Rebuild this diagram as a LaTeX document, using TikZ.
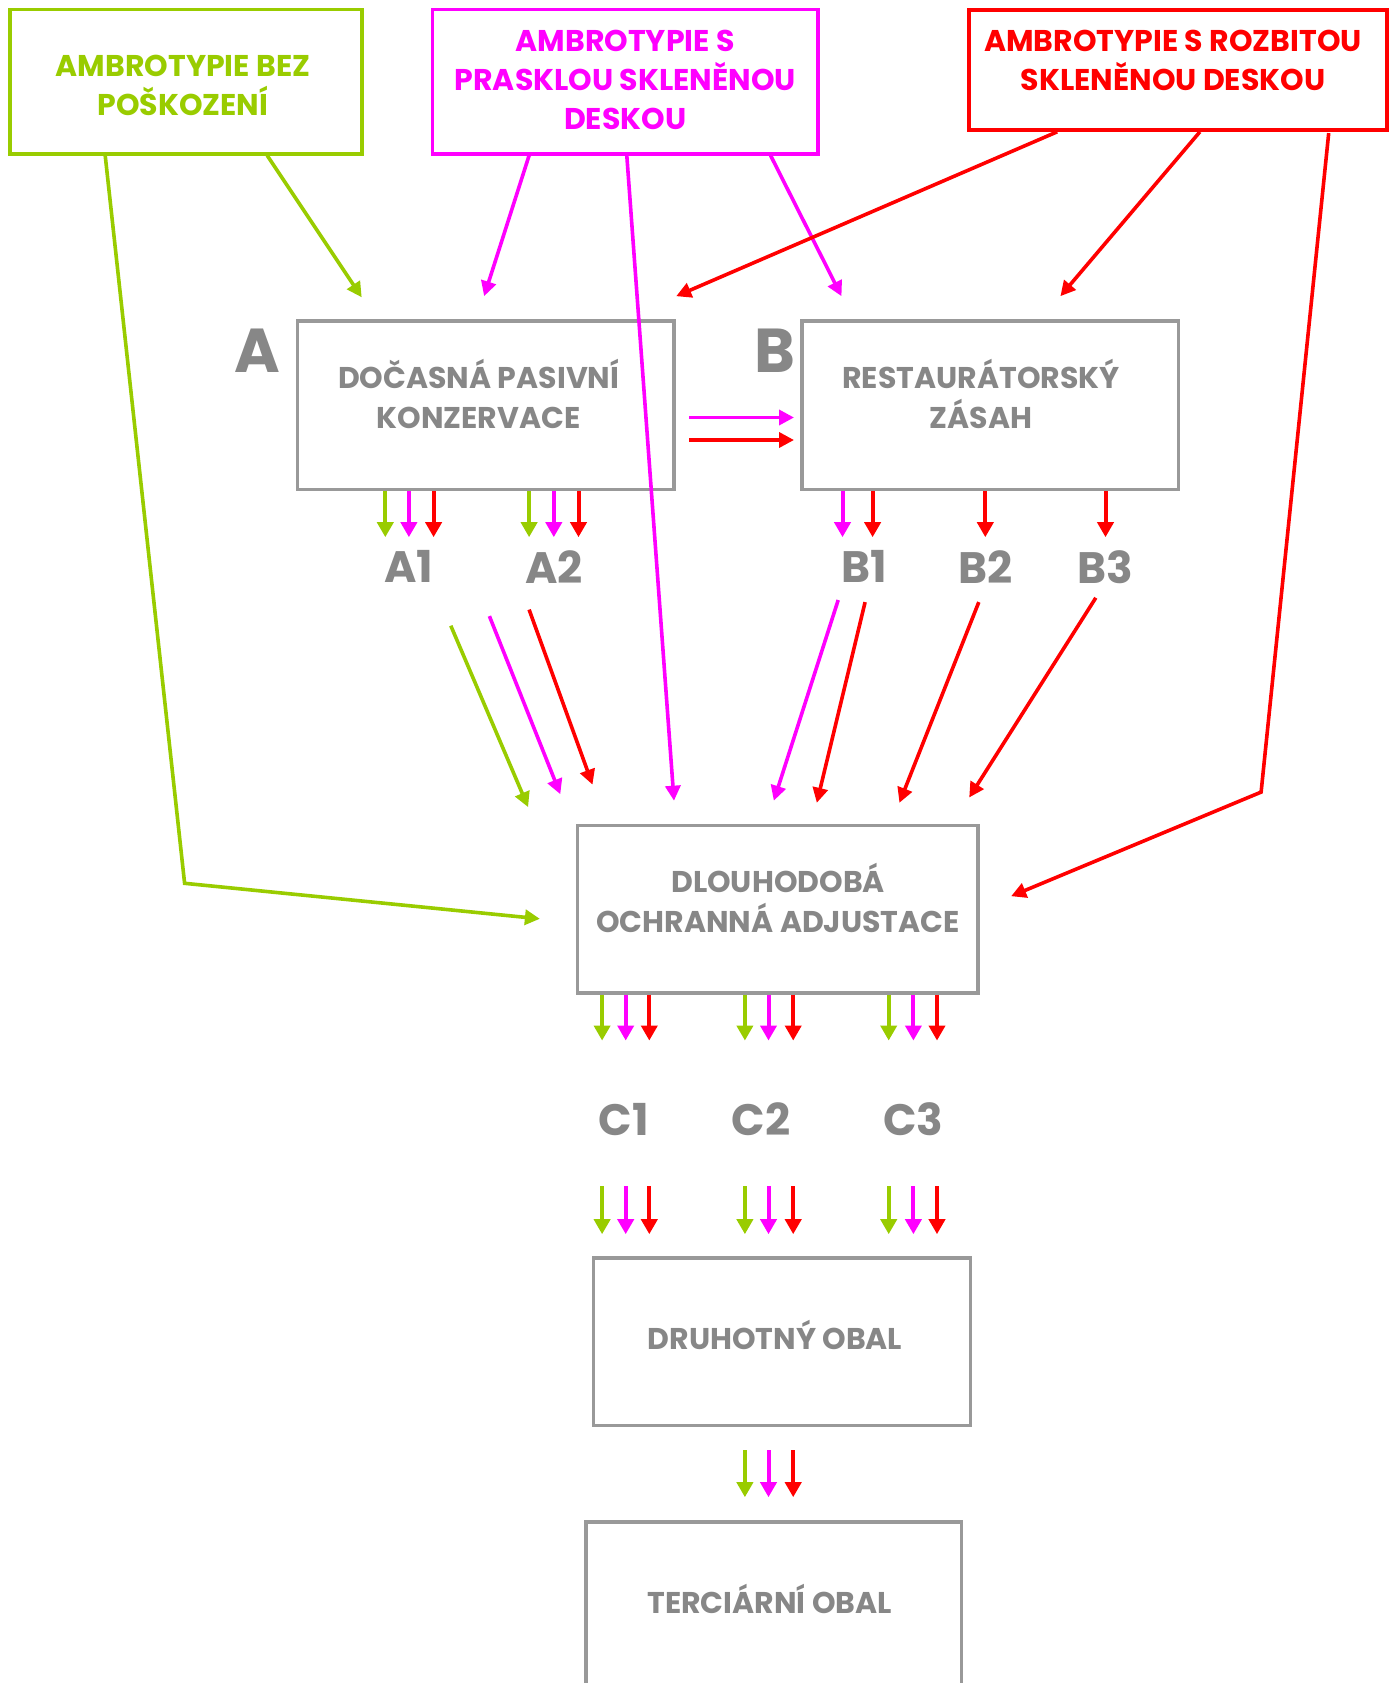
\documentclass[tikz,border=0pt]{standalone}
\usepackage{fontspec}
\setmainfont{Poppins}
\usetikzlibrary{arrows.meta}
\definecolor{cgreen}{HTML}{99CC00}
\definecolor{cmag}{HTML}{FF00FF}
\definecolor{cred}{HTML}{FF0000}
\definecolor{cgraytext}{HTML}{878787}
\definecolor{cgraybox}{HTML}{999999}
\begin{document}
\begin{tikzpicture}[x=1pt,y=-1pt,
  cbox/.style={draw=#1, line width=3.8pt, rectangle, inner sep=0pt},
  gbox/.style={draw=cgraybox, line width=3.5pt, rectangle, inner sep=0pt},
  ctext/.style={text=#1, font=\fontsize{30}{39}\selectfont\bfseries, align=center, inner sep=0pt},
  gtext/.style={text=cgraytext, font=\fontsize{30}{40}\selectfont\bfseries, align=center, inner sep=0pt},
  lbl/.style={text=cgraytext, font=\fontsize{44}{50}\selectfont\bfseries, inner sep=0pt},
  biglbl/.style={text=cgraytext, font=\fontsize{62}{70}\selectfont\bfseries, inner sep=0pt},
  arr/.style={line width=3.6pt, -{Triangle[width=15pt,length=15pt]}},
  sarr/.style={line width=4pt, -{Triangle[width=16pt,length=15pt]}}
]
\useasboundingbox[fill=white] (0,0) rectangle (1391,1683);

% source boxes
\node[cbox=cgreen, minimum width=352pt, minimum height=144pt] (gsrc) at (185.7,81.6) {};
\node[ctext=cgreen] (gsrctxt) at (183,85) {AMBROTYPIE BEZ\\POŠKOZENÍ};
\node[cbox=cmag, minimum width=385.4pt, minimum height=144pt] (msrc) at (625.2,81.6) {};
\node[ctext=cmag] (msrctxt) at (625.2,80) {AMBROTYPIE S\\PRASKLOU SKLENĚNOU\\DESKOU};
\node[cbox=cred, minimum width=417.5pt, minimum height=120.2pt] (rsrc) at (1178,69.8) {};
\node[ctext=cred] (rsrctxt) at (1173,60) {AMBROTYPIE S ROZBITOU\\SKLENĚNOU DESKOU};

% A and B boxes
\node[gbox, minimum width=376.7pt, minimum height=168.5pt] (boxA) at (485.7,405.2) {};
\node[gtext] (boxAtxt) at (478.7,394) {DOČASNÁ PASIVNÍ\\KONZERVACE};
\node[biglbl] (labA) at (257.6,351) {A};
\node[gbox, minimum width=376.7pt, minimum height=168.5pt] (boxB) at (990.1,405.2) {};
\node[gtext] (boxBtxt) at (981,394) {RESTAURÁTORSKÝ\\ZÁSAH};
\node[biglbl] (labB) at (775,351) {B};

% sub labels
\node[lbl] (A1) at (408.9,566.7) {A1};
\node[lbl] (A2) at (553.8,566.7) {A2};
\node[lbl] (B1) at (864,566.7) {B1};
\node[lbl] (B2) at (985.3,566.7) {B2};
\node[lbl] (B3) at (1105.5,566.7) {B3};

% D box
\node[gbox, minimum width=400.4pt, minimum height=167.4pt] (boxD) at (777.6,909.1) {};
\node[gtext] (boxDtxt) at (778.1,898) {DLOUHODOBÁ\\OCHRANNÁ ADJUSTACE};

\node[lbl] (C1) at (623.6,1119.5) {C1};
\node[lbl] (C2) at (761,1119.5) {C2};
\node[lbl] (C3) at (913.4,1119.5) {C3};

\node[gbox, minimum width=376.8pt, minimum height=167.3pt] (boxS) at (781.9,1341.6) {};
\node[gtext] (boxStxt) at (775,1335.3) {DRUHOTNÝ OBAL};
\node[gbox, minimum width=375.7pt, minimum height=220pt] (boxT) at (773.85,1631.9) {};
\node[gtext] (boxTtxt) at (769.6,1599.4) {TERCIÁRNÍ OBAL};

% coordinates for connector ends
\coordinate (g1e) at (361.7,297.3);
\coordinate (g2b) at (184.6,883.3);
\coordinate (g2e) at (539.9,918.8);
\coordinate (m1e) at (484.1,296.2);
\coordinate (m2e) at (674.0,800.7);
\coordinate (m3e) at (841.5,296.2);
\coordinate (r1e) at (676.2,296.2);
\coordinate (r2e) at (1060.4,296.2);
\coordinate (r3s) at (1328.7,133.1);
\coordinate (r3b) at (1261.1,792.1);
\coordinate (r3e) at (1011.1,896.2);

% long connectors from sources
\draw[arr,cgreen] (267.2,0 |- gsrc.south) -- (g1e);
\draw[arr,cgreen,line join=miter] (105.2,0 |- gsrc.south) -- (g2b) -- (g2e);
\draw[arr,cmag] (529.1,0 |- msrc.south) -- (m1e);
\draw[arr,cmag] (626.8,0 |- msrc.south) -- (m2e);
\draw[arr,cmag] (770.6,0 |- msrc.south) -- (m3e);
\draw[arr,cred] (1057.2,0 |- rsrc.south) -- (r1e);
\draw[arr,cred] (1199.9,0 |- rsrc.south) -- (r2e);
\draw[arr,cred,line join=miter] (r3s) -- (r3b) -- (r3e);

% A -> B
\coordinate (abm) at (689,417.5);
\coordinate (abme) at (794,417.5);
\coordinate (abr) at (689,440);
\coordinate (abre) at (794,440);
\draw[arr,cmag] (abm) -- (abme);
\draw[arr,cred] (abr) -- (abre);

% small arrows under A and B
\foreach \x/\c in {385.3/cgreen,408.9/cmag,433.6/cred,529.1/cgreen,553.8/cmag,578.5/cred,842.5/cmag,872.6/cred,985.3/cred,1105.5/cred}
  \draw[sarr,\c] (\x,0 |- boxA.south) -- ++(0,46);

% from A1/A2 and B1..B3 to D
\coordinate (a1g) at (450.8,625.7);  \coordinate (a1ge) at (528.1,807.1);
\coordinate (a2m) at (489.4,616.1);  \coordinate (a2me) at (560.3,794.2);
\coordinate (a2r) at (529.1,609.6);  \coordinate (a2re) at (592.5,784.6);
\coordinate (b1m) at (838.2,600);    \coordinate (b1me) at (773.8,800.7);
\coordinate (b1r) at (865.1,602.1);  \coordinate (b1re) at (816.8,802.8);
\coordinate (b2r) at (978.8,602.1);  \coordinate (b2re) at (899.4,802.8);
\coordinate (b3r) at (1095.8,597.8); \coordinate (b3re) at (969.2,797.5);
\draw[arr,cgreen] (a1g) -- (a1ge);
\draw[arr,cmag] (a2m) -- (a2me);
\draw[arr,cred] (a2r) -- (a2re);
\draw[arr,cmag] (b1m) -- (b1me);
\draw[arr,cred] (b1r) -- (b1re);
\draw[arr,cred] (b2r) -- (b2re);
\draw[arr,cred] (b3r) -- (b3re);

% arrows below D, above S, below S
\foreach \x/\c in {602.1/cgreen,625.7/cmag,649.3/cred,744.9/cgreen,768.5/cmag,793.2/cred,888.7/cgreen,913.4/cmag,937/cred}{
  \draw[sarr,\c] (\x,0 |- boxD.south) -- ++(0,46);
  \draw[sarr,\c] (\x,1186) -- (\x,1234.2);
}
\foreach \x/\c in {744.9/cgreen,768.5/cmag,793.2/cred}
  \draw[sarr,\c] (\x,0 |- boxS.south) ++(0,23) -- (\x,1497.2);
\end{tikzpicture}
\end{document}
